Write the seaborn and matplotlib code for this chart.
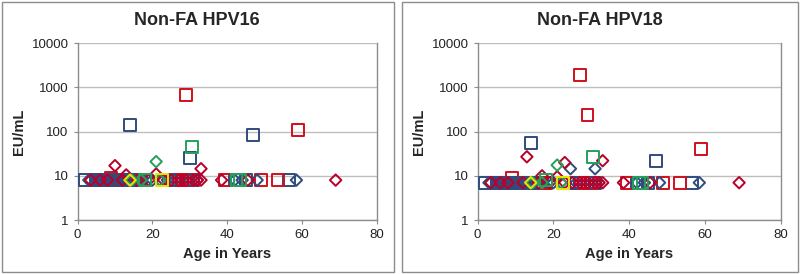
import numpy as np
import pandas as pd
import seaborn as sns
import matplotlib.pyplot as plt
from matplotlib.patches import Rectangle

# ---- data (age in years, EU/mL) ----
# HPV16 panel
bsq16_age = [2, 5, 5.5, 6, 6.5, 7, 7.5, 8, 8.5, 9, 9.5, 10, 10.5, 11, 11.5, 12, 12.5, 13, 15, 15.5, 16, 16.5, 17,
             26, 27, 28, 29, 31, 42, 45, 56.5, 14, 30, 47]
bsq16_val = [8, 8, 8, 8, 8, 8, 8, 8, 8, 8, 8, 8, 8, 8, 8, 8, 8, 8, 8, 8, 8, 8, 8,
             8, 8, 8, 8, 8, 8, 8, 8, 140, 25, 85]
rsq16_age = [9, 18, 28, 29.5, 39.5, 49, 53.5, 29, 59]
rsq16_val = [9, 8, 8, 8, 8, 8, 8, 680, 110]
bdi16_age = [3, 5, 7, 9, 11, 13, 15, 20, 22, 24, 26, 30, 32, 42, 44, 48, 58.5]
bdi16_val = [8, 8, 8, 8, 8, 8, 8, 8, 8, 8, 8, 8, 8, 8, 8, 8, 8]
rdi16_age = [3.5, 6, 8, 12, 16, 17, 19, 23, 25, 27, 28, 29, 31, 32, 33, 38.5, 45.5, 69, 10, 13, 21, 33]
rdi16_val = [8, 8, 8, 8, 8, 8, 8, 8, 8, 8, 8, 8, 8, 8, 8, 8, 8, 8, 17, 10.5, 11, 14.5]
gsq16_age = [18, 42.5, 43.5, 30.5]
gsq16_val = [8, 8, 8, 45]
gdi16_age = [14.5, 17, 22, 21]
gdi16_val = [8, 8, 8, 21]
ysq16_age = [22.5]
ysq16_val = [8]
ydi16_age = [14]
ydi16_val = [8]

# HPV18 panel
bsq18_age = [2, 5, 5.5, 6, 6.5, 7, 7.5, 8, 8.5, 9, 9.5, 10, 10.5, 11, 11.5, 12, 12.5, 13, 15, 15.5, 16, 16.5, 17,
             26, 27, 28, 29, 31, 42, 45, 56.5, 14, 47]
bsq18_val = [7, 7, 7, 7, 7, 7, 7, 7, 7, 7, 7, 7, 7, 7, 7, 7, 7, 7, 7, 7, 7, 7, 7,
             7, 7, 7, 7, 7, 7, 7, 7, 55, 22]
rsq18_age = [9, 18, 28, 30, 39.5, 49, 53.5, 27, 29, 59]
rsq18_val = [9, 7, 7, 7, 7, 7, 7, 1900, 240, 40]
bdi18_age = [3, 5, 7, 9, 11, 13, 15, 20, 22, 26, 30, 32, 42, 44, 48, 58.5, 24.5, 31]
bdi18_val = [7, 7, 7, 7, 7, 7, 7, 7, 7, 7, 7, 7, 7, 7, 7, 7, 14.5, 14.5]
rdi18_age = [3.5, 6, 8, 12, 16, 19, 23, 25, 27, 28, 29, 31, 32, 33, 38.5, 45.5, 69, 13, 23, 33, 17, 21]
rdi18_val = [7, 7, 7, 7, 7, 7, 7, 7, 7, 7, 7, 7, 7, 7, 7, 7, 7, 27, 20, 22, 10, 9.5]
gsq18_age = [18, 42.5, 43.5, 30.5]
gsq18_val = [8, 7, 7, 27]
gdi18_age = [14.5, 17, 22, 21]
gdi18_val = [7, 7, 7, 17.5]
ysq18_age = [22.5]
ysq18_val = [7]
ydi18_age = [14]
ydi18_val = [7]

blue = '#2E4C7E'
red = '#D0101C'
dred = '#B8002A'
green = '#25A05A'
yellow = '#E6E600'

panels = [
    ('Non-FA HPV16', [
        (bsq16_age, bsq16_val, 's', blue), (rsq16_age, rsq16_val, 's', red),
        (bdi16_age, bdi16_val, 'D', blue), (rdi16_age, rdi16_val, 'D', dred),
        (gsq16_age, gsq16_val, 's', green), (gdi16_age, gdi16_val, 'D', green),
        (ysq16_age, ysq16_val, 's', yellow), (ydi16_age, ydi16_val, 'D', yellow)]),
    ('Non-FA HPV18', [
        (bsq18_age, bsq18_val, 's', blue), (rsq18_age, rsq18_val, 's', red),
        (bdi18_age, bdi18_val, 'D', blue), (rdi18_age, rdi18_val, 'D', dred),
        (gsq18_age, gsq18_val, 's', green), (gdi18_age, gdi18_val, 'D', green),
        (ysq18_age, ysq18_val, 's', yellow), (ydi18_age, ydi18_val, 'D', yellow)]),
]

sns.set_style('white')
plt.rcParams['font.family'] = ['Liberation Sans', 'DejaVu Sans']

fig = plt.figure(figsize=(8, 2.74), dpi=100)
# chart borders
fig.patches.append(Rectangle((0.003, 0.006), 0.49, 0.988, transform=fig.transFigure,
                             fill=False, edgecolor='#8C8C8C', linewidth=1))
fig.patches.append(Rectangle((0.503, 0.006), 0.494, 0.988, transform=fig.transFigure,
                             fill=False, edgecolor='#8C8C8C', linewidth=1))

axes = [fig.add_axes([0.097, 0.197, 0.374, 0.645]),
        fig.add_axes([0.597, 0.197, 0.379, 0.645])]
title_x = [0.246, 0.75]

for ax, tx, (title, series) in zip(axes, title_x, panels):
    for ages, vals, mk, col in series:
        df = pd.DataFrame({'age': ages, 'eu': vals})
        sns.scatterplot(data=df, x='age', y='eu', ax=ax, marker=mk,
                        s=72 if mk == 's' else 34, facecolor='none',
                        edgecolor=col, linewidth=1.4, zorder=3)
    ax.set_yscale('log')
    ax.set_ylim(1, 10000)
    ax.set_xlim(0, 80)
    ax.set_xticks([0, 20, 40, 60, 80])
    ax.set_yticks([1, 10, 100, 1000, 10000])
    ax.set_yticklabels(['1', '10', '100', '1000', '10000'])
    ax.minorticks_off()
    ax.grid(axis='y', color='#BEBEBE', linewidth=1)
    ax.set_axisbelow(True)
    for sp in ax.spines.values():
        sp.set_color('#8C8C8C')
        sp.set_linewidth(1)
    ax.spines['top'].set_visible(False)
    ax.tick_params(axis='both', labelsize=9.5, colors='#222222', length=3,
                   direction='out', bottom=True, left=True, width=0.8)
    ax.tick_params(color='#8C8C8C')
    ax.set_xlabel('Age in Years', fontsize=10.5, fontweight='bold', labelpad=4)
    ax.set_ylabel('EU/mL', fontsize=10.5, fontweight='bold', labelpad=4)
    fig.text(tx, 0.927, title, fontsize=13, fontweight='bold', ha='center', va='center')

fig.savefig('out.png', dpi=100)
